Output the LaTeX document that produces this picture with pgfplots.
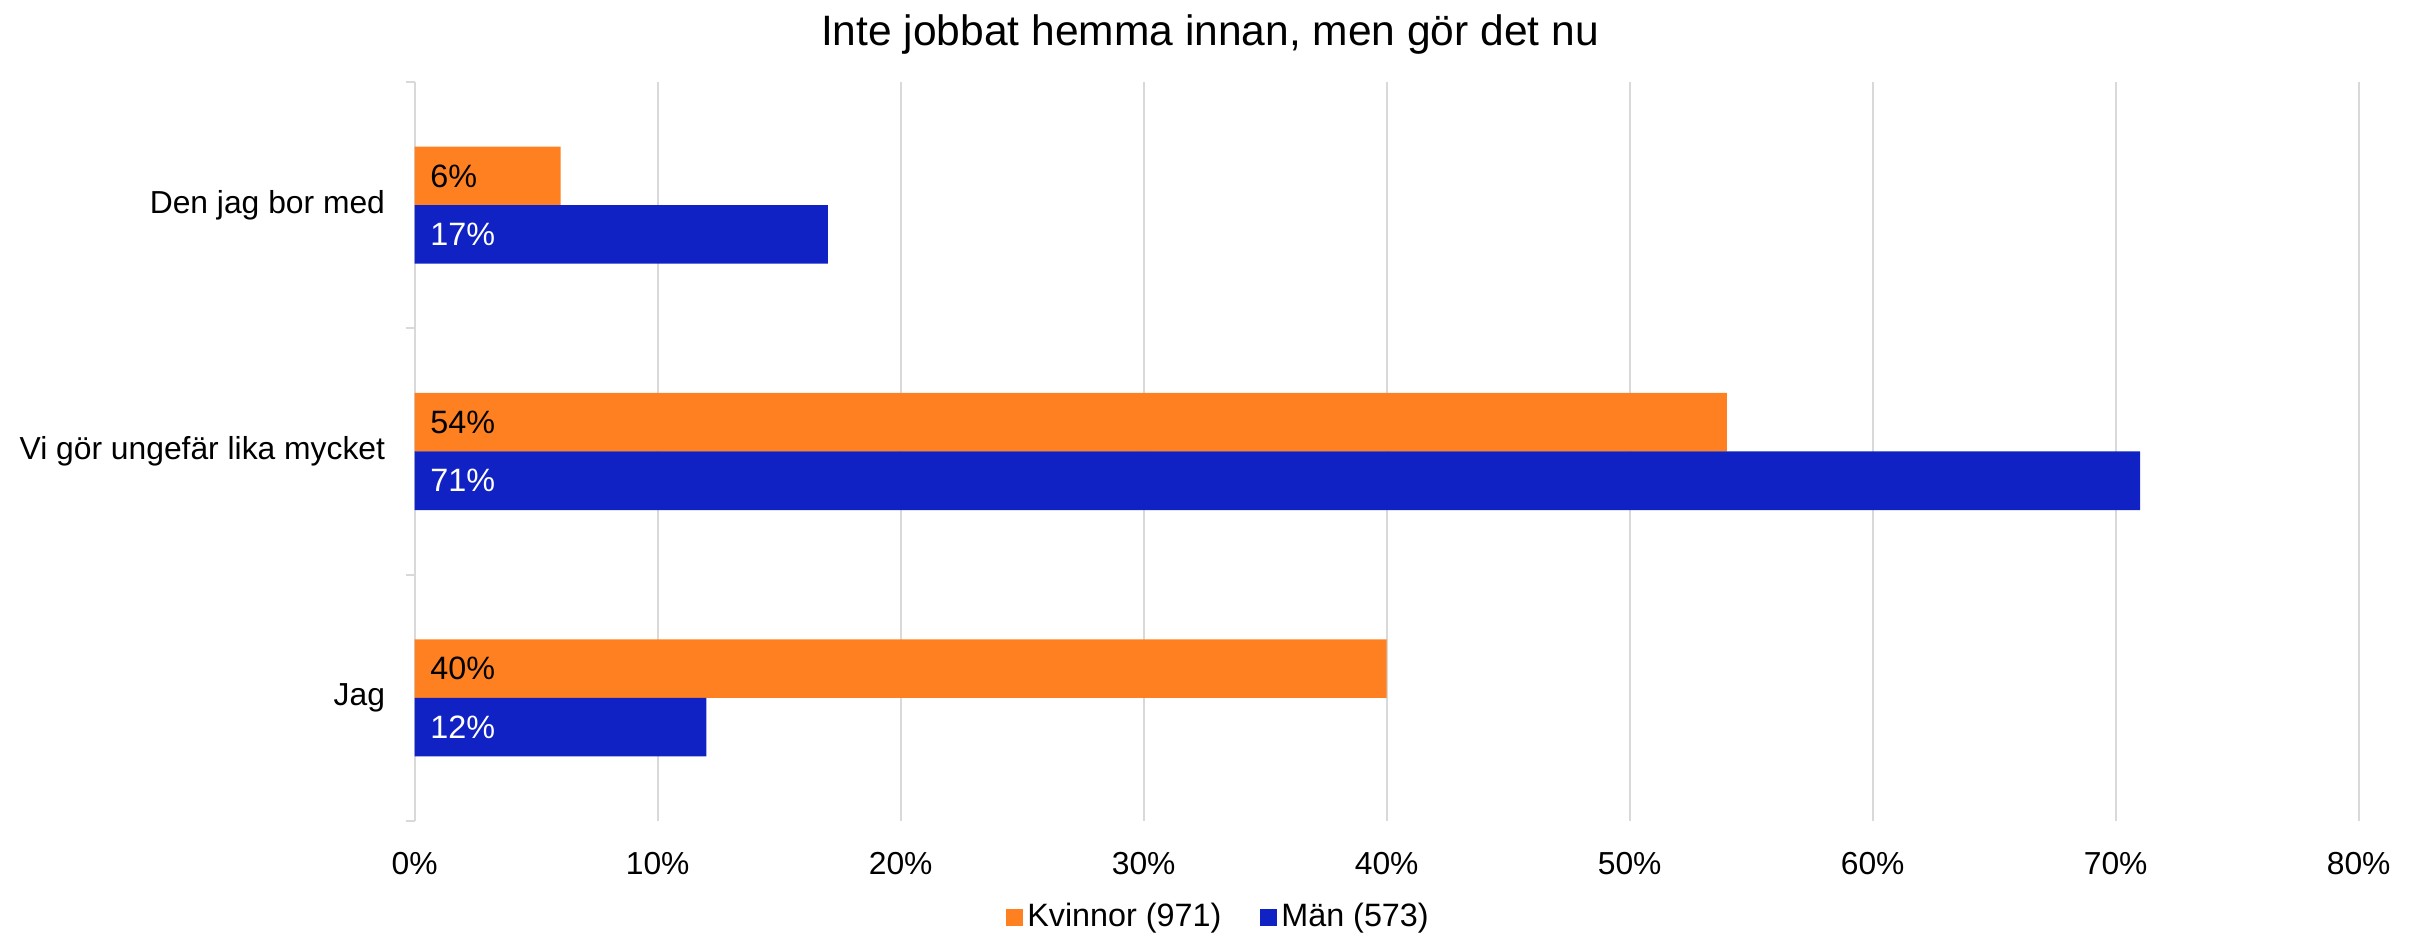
\documentclass[border=0pt]{standalone}
\usepackage{fontspec}
\setmainfont{Liberation Sans}
\usepackage{pgfplots}
\pgfplotsset{compat=1.18}
\definecolor{kv}{RGB}{255,128,32}
\definecolor{man}{RGB}{17,34,196}
\definecolor{gridgray}{RGB}{217,217,217}
\begin{document}
\begin{tikzpicture}
\begin{axis}[
 at={(4.147cm,1.17cm)}, anchor=south west,
 scale only axis, width=19.44cm, height=7.39cm,
 xmin=0, xmax=80, ymin=-0.5, ymax=2.5,
 xtick={0,10,...,80},
 xticklabels={0\%,10\%,20\%,30\%,40\%,50\%,60\%,70\%,80\%},
 ytick={0,1,2},
 yticklabels={Jag, Vi gör ungefär lika mycket, Den jag bor med},
 minor ytick={-0.5,0.5,1.5,2.5},
 major tick length=0pt,
 minor tick length=0.9mm,
 tick align=outside,
 minor tick style={draw=gridgray, line width=0.2mm},
 xmajorgrids, major grid style={draw=gridgray, line width=0.2mm},
 axis lines*=left,
 x axis line style={draw=none},
 y axis line style={draw=gridgray, line width=0.2mm},
 ticklabel style={font=\fontsize{9.05}{10}\selectfont, inner sep=0pt},
 xticklabel style={yshift=-3.1mm},
 yticklabel style={xshift=-2.9mm},
 legend style={at={(0.414,-0.131)}, anchor=center, draw=none, legend columns=2,
   font=\fontsize{9.2}{11}\selectfont, nodes={inner sep=0.45mm},
   /tikz/every even column/.append style={column sep=3.4mm}},
 legend image code/.code={\fill[#1] (0mm,-0.85mm) rectangle (1.7mm,0.85mm);},
 bar width=0.2375,
]
\addplot[xbar, fill=kv, draw=none, bar shift=0.11875] coordinates {(40,0) (54,1) (6,2)};
\addplot[xbar, fill=man, draw=none, bar shift=-0.11875] coordinates {(12,0) (71,1) (17,2)};
\legend{Kvinnor (971), Män (573)}
\addplot[draw=none, mark=none, nodes near coords, point meta=explicit symbolic,
  nodes near coords style={anchor=west, xshift=1.5mm, inner sep=0pt, font=\fontsize{9.2}{10}\selectfont, text=black}]
  coordinates {(0,0.11875) [40\%] (0,1.11875) [54\%] (0,2.11875) [6\%]};
\addplot[draw=none, mark=none, nodes near coords, point meta=explicit symbolic,
  nodes near coords style={anchor=west, xshift=1.5mm, inner sep=0pt, font=\fontsize{9.2}{10}\selectfont, text=white}]
  coordinates {(0,-0.11875) [12\%] (0,0.88125) [71\%] (0,1.88125) [17\%]};
\end{axis}
\node[anchor=base, font=\fontsize{12.1}{14}\selectfont] at (12.1,8.92) {Inte jobbat hemma innan, men gör det nu};
\pgfresetboundingbox
\path (0,0) rectangle (24.2,9.38);
\end{tikzpicture}
\end{document}
